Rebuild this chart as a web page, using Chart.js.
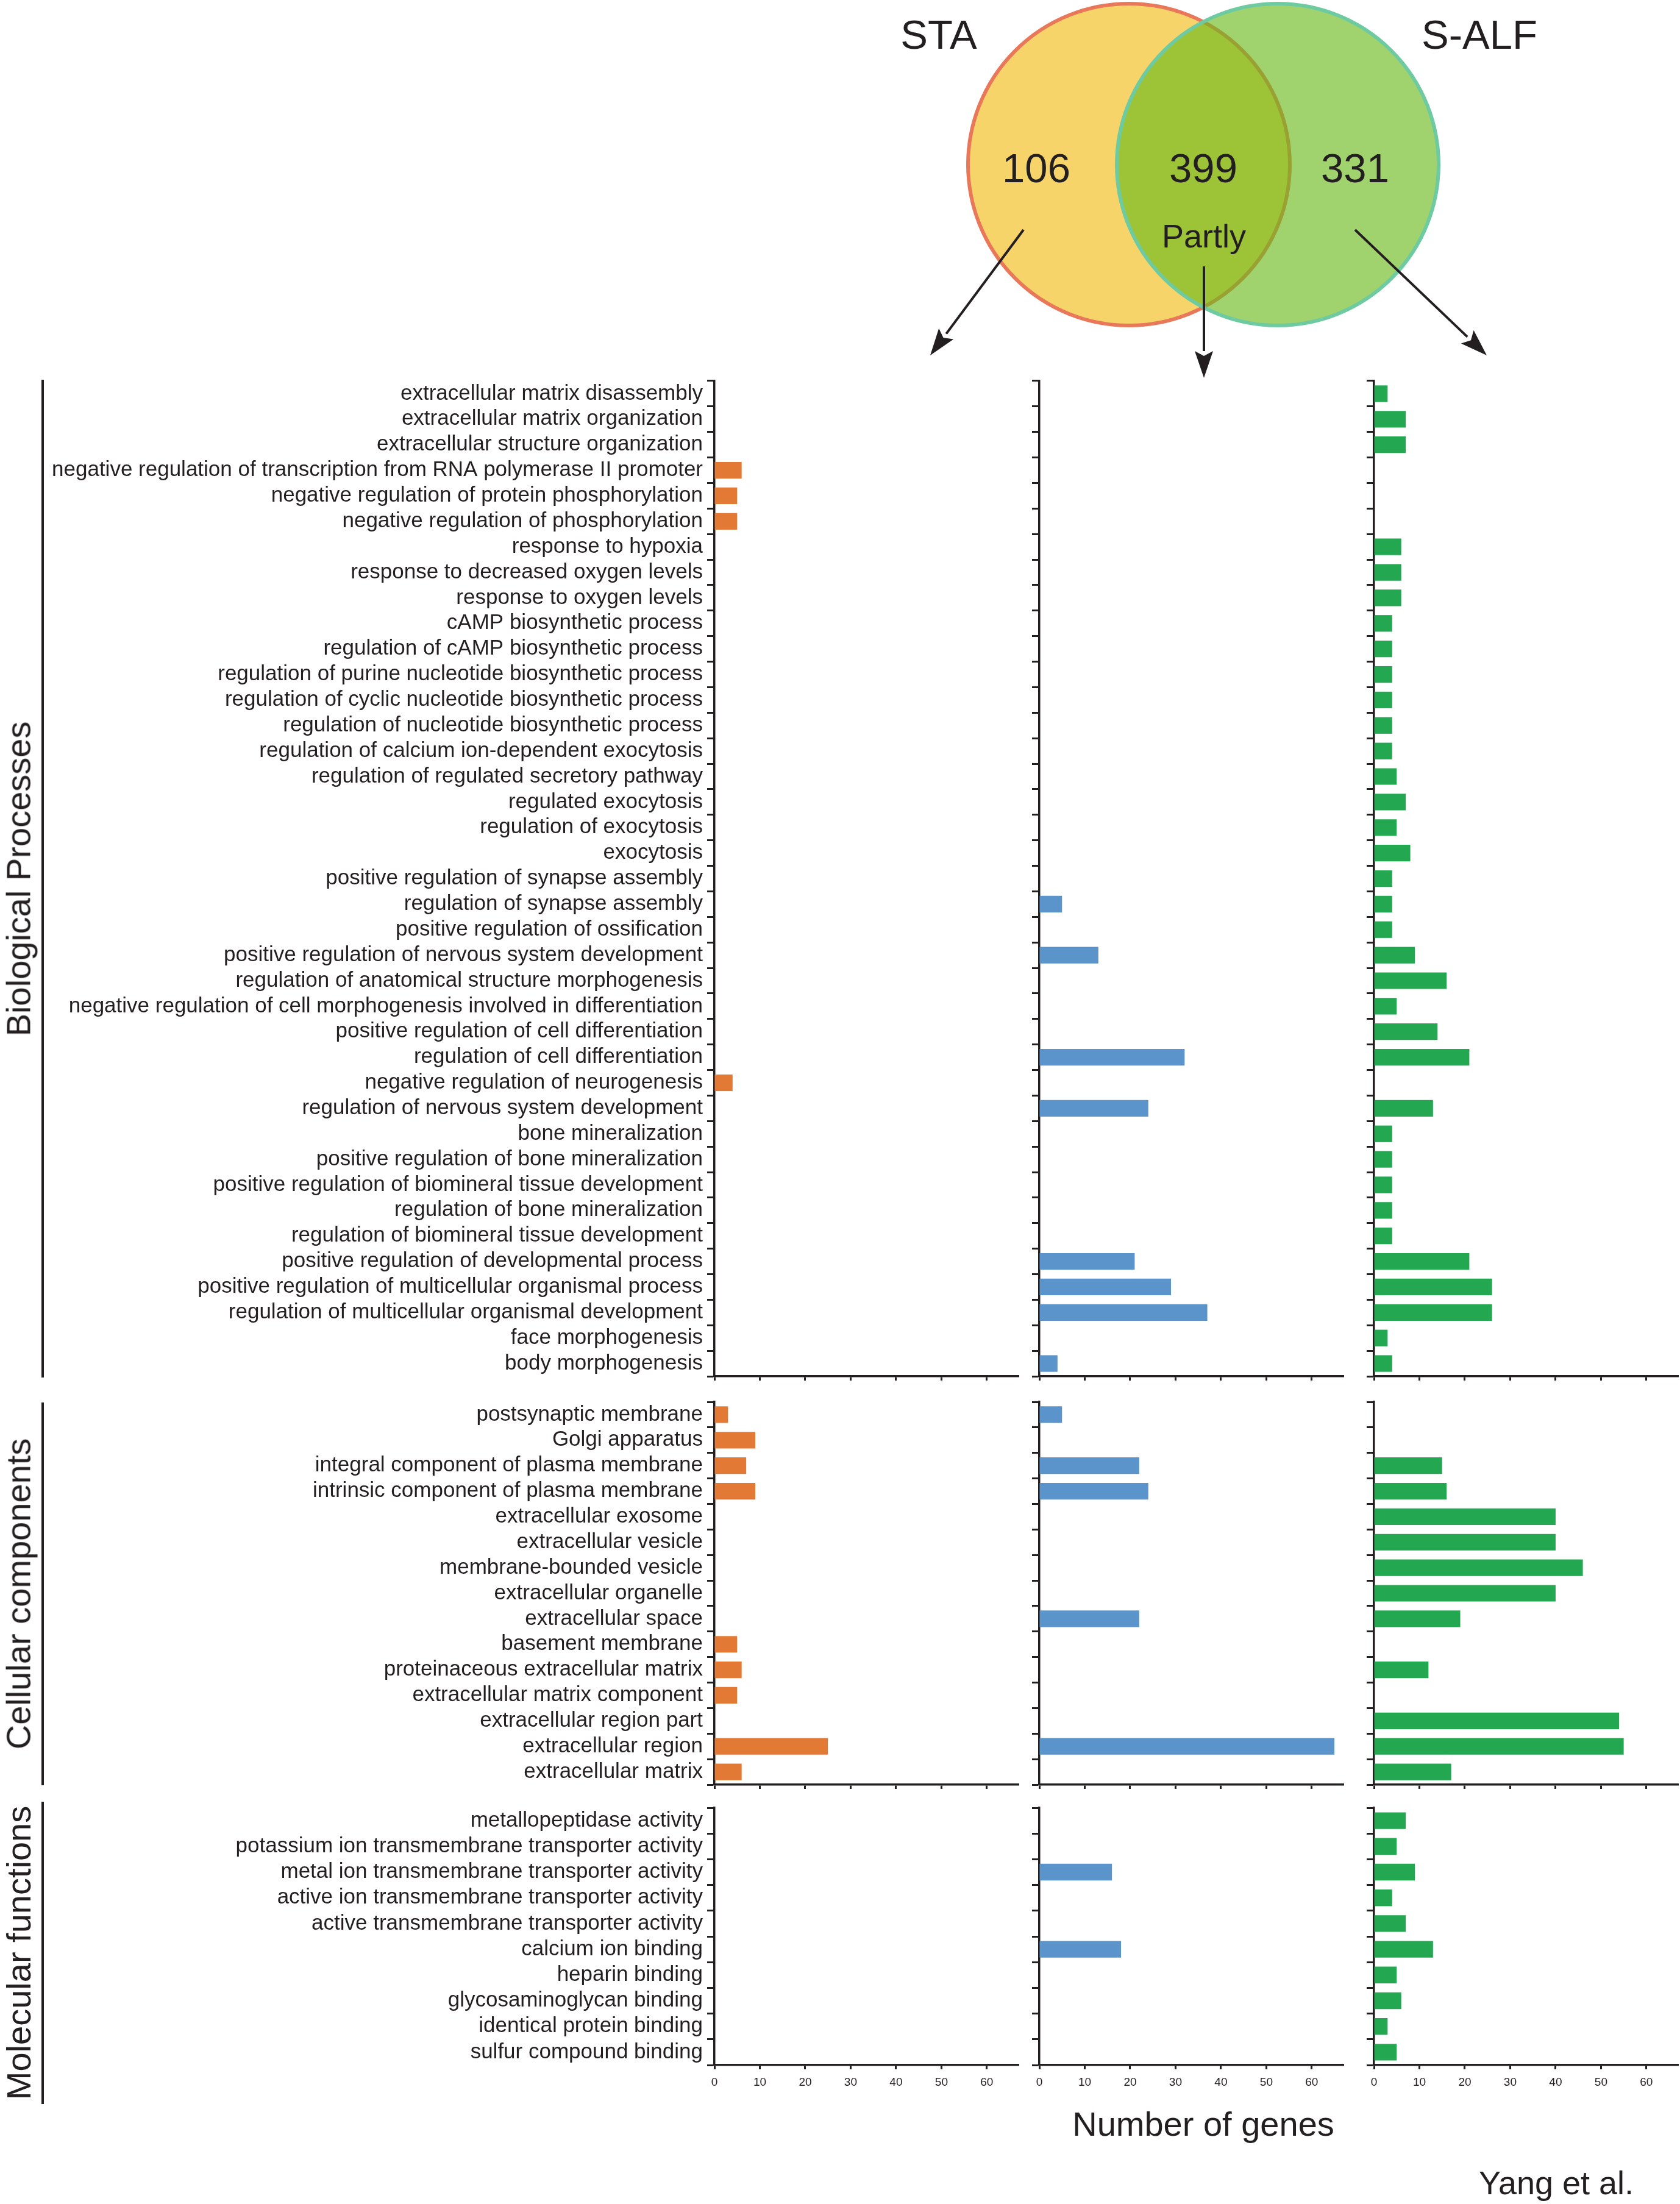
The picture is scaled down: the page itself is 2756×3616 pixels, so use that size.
<!DOCTYPE html>
<html>
<head>
<meta charset="utf-8">
<script src="https://cdn.jsdelivr.net/npm/chart.js@4.4.1/dist/chart.umd.min.js"></script>
<style>
  body { margin: 0; background: #fff; width: 2756px; height: 3616px; position: relative; overflow: hidden; }
  canvas { position: absolute; }
  .txt { position: absolute; font-family: "Liberation Sans", Arial, sans-serif; color: #231F20; white-space: nowrap; transform: translate(-50%, -50%); }
  .side { transform: translate(-50%, -50%) rotate(-90deg); }
  .bracket { position: absolute; left: 68px; width: 4px; background: #231F20; }
</style>
</head>
<body>
<script>
// Venn counts: STA only, both (partly), S-ALF only
const vennSets = ['STA', 'S-ALF'];
const vennCounts = [106, 399, 331];

const panelNames = ['STA', 'Partly', 'S-ALF'];
const panelColors = ['#E27A36', '#5A94CA', '#23A751'];

// Biological Processes
const bpLabels = [
  'extracellular matrix disassembly',
  'extracellular matrix organization',
  'extracellular structure organization',
  'negative regulation of transcription from RNA polymerase II promoter',
  'negative regulation of protein phosphorylation',
  'negative regulation of phosphorylation',
  'response to hypoxia',
  'response to decreased oxygen levels',
  'response to oxygen levels',
  'cAMP biosynthetic process',
  'regulation of cAMP biosynthetic process',
  'regulation of purine nucleotide biosynthetic process',
  'regulation of cyclic nucleotide biosynthetic process',
  'regulation of nucleotide biosynthetic process',
  'regulation of calcium ion-dependent exocytosis',
  'regulation of regulated secretory pathway',
  'regulated exocytosis',
  'regulation of exocytosis',
  'exocytosis',
  'positive regulation of synapse assembly',
  'regulation of synapse assembly',
  'positive regulation of ossification',
  'positive regulation of nervous system development',
  'regulation of anatomical structure morphogenesis',
  'negative regulation of cell morphogenesis involved in differentiation',
  'positive regulation of cell differentiation',
  'regulation of cell differentiation',
  'negative regulation of neurogenesis',
  'regulation of nervous system development',
  'bone mineralization',
  'positive regulation of bone mineralization',
  'positive regulation of biomineral tissue development',
  'regulation of bone mineralization',
  'regulation of biomineral tissue development',
  'positive regulation of developmental process',
  'positive regulation of multicellular organismal process',
  'regulation of multicellular organismal development',
  'face morphogenesis',
  'body morphogenesis'
];
const staBP = [0, 0, 0, 6, 5, 5, 0, 0, 0, 0, 0, 0, 0, 0, 0, 0, 0, 0, 0, 0,
  0, 0, 0, 0, 0, 0, 0, 4, 0, 0, 0, 0, 0, 0, 0, 0, 0, 0, 0];
const partlyBP = [0, 0, 0, 0, 0, 0, 0, 0, 0, 0, 0, 0, 0, 0, 0, 0, 0, 0, 0, 0,
  5, 0, 13, 0, 0, 0, 32, 0, 24, 0, 0, 0, 0, 0, 21, 29, 37, 0, 4];
const salfBP = [3, 7, 7, 0, 0, 0, 6, 6, 6, 4, 4, 4, 4, 4, 4, 5, 7, 5, 8, 4,
  4, 4, 9, 16, 5, 14, 21, 0, 13, 4, 4, 4, 4, 4, 21, 26, 26, 3, 4];

// Cellular components
const ccLabels = [
  'postsynaptic membrane',
  'Golgi apparatus',
  'integral component of plasma membrane',
  'intrinsic component of plasma membrane',
  'extracellular exosome',
  'extracellular vesicle',
  'membrane-bounded vesicle',
  'extracellular organelle',
  'extracellular space',
  'basement membrane',
  'proteinaceous extracellular matrix',
  'extracellular matrix component',
  'extracellular region part',
  'extracellular region',
  'extracellular matrix'
];
const staCC = [3, 9, 7, 9, 0, 0, 0, 0, 0, 5, 6, 5, 0, 25, 6];
const partlyCC = [5, 0, 22, 24, 0, 0, 0, 0, 22, 0, 0, 0, 0, 65, 0];
const salfCC = [0, 0, 15, 16, 40, 40, 46, 40, 19, 0, 12, 0, 54, 55, 17];

// Molecular functions
const mfLabels = [
  'metallopeptidase activity',
  'potassium ion transmembrane transporter activity',
  'metal ion transmembrane transporter activity',
  'active ion transmembrane transporter activity',
  'active transmembrane transporter activity',
  'calcium ion binding',
  'heparin binding',
  'glycosaminoglycan binding',
  'identical protein binding',
  'sulfur compound binding'
];
const staMF = [0, 0, 0, 0, 0, 0, 0, 0, 0, 0];
const partlyMF = [0, 0, 16, 0, 0, 18, 0, 0, 0, 0];
const salfMF = [7, 5, 9, 4, 7, 13, 5, 6, 3, 5];

const xTicksMax = 67;
const INK = '#231F20';
const FONT = '"Liberation Sans", Arial, sans-serif';

// layout of the three blocks (page pixels)
const sections = [
  { title: 'Biological Processes', labels: bpLabels, values: [staBP, partlyBP, salfBP], top: 625, bottom: 2258, showX: false, line: [623, 2260] },
  { title: 'Cellular components', labels: ccLabels, values: [staCC, partlyCC, salfCC], top: 2300, bottom: 2928, showX: false, line: [2301, 2929] },
  { title: 'Molecular functions', labels: mfLabels, values: [staMF, partlyMF, salfMF], top: 2966, bottom: 3388, showX: true, line: [2956, 3452] }
];
const axisLeft = [1172, 1705, 2254];
const plotW = 499;
const padTop = 30;

function addText(str, x, y, size, cls) {
  const d = document.createElement('div');
  d.className = 'txt' + (cls ? ' ' + cls : '');
  d.textContent = str;
  d.style.left = x + 'px';
  d.style.top = y + 'px';
  d.style.fontSize = size + 'px';
  document.body.appendChild(d);
}

function makeCanvas(left, top, w, h) {
  const c = document.createElement('canvas');
  c.width = w; c.height = h;
  c.style.left = left + 'px'; c.style.top = top + 'px';
  c.style.width = w + 'px'; c.style.height = h + 'px';
  document.body.appendChild(c);
  return c;
}

sections.forEach(sec => {
  const xh = sec.showX ? 64 : 30;
  const areaH = sec.bottom - sec.top;

  sec.values.forEach((vals, p) => {
    const yw = p === 0 ? axisLeft[0] : 40;
    const left = axisLeft[p] - yw;
    const w = yw + plotW + 6;
    const h = padTop + areaH + xh;
    const canvas = makeCanvas(left, sec.top - padTop, w, h);

    new Chart(canvas.getContext('2d'), {
      type: 'bar',
      data: {
        labels: sec.labels,
        datasets: [{
          label: panelNames[p],
          data: vals,
          backgroundColor: panelColors[p],
          borderWidth: 0,
          barPercentage: 0.65,
          categoryPercentage: 1
        }]
      },
      options: {
        indexAxis: 'y',
        responsive: false,
        animation: false,
        devicePixelRatio: 1,
        events: [],
        layout: { autoPadding: false, padding: { top: padTop, right: 6, left: 0, bottom: 0 } },
        plugins: { legend: { display: false }, tooltip: { enabled: false } },
        scales: {
          x: {
            type: 'linear',
            min: 0,
            max: xTicksMax,
            afterFit: s => { s.height = xh; },
            border: { color: INK, width: 3.5 },
            grid: { drawOnChartArea: false, drawTicks: true, tickLength: 7, tickWidth: 3, tickColor: INK },
            ticks: {
              display: sec.showX,
              stepSize: 10,
              includeBounds: false,
              color: INK,
              padding: 10,
              maxRotation: 0,
              font: { family: FONT, size: 19 }
            }
          },
          y: {
            type: 'category',
            offset: true,
            afterFit: s => { s.width = yw; },
            border: { color: INK, width: 3.5 },
            grid: { offset: true, drawOnChartArea: false, drawTicks: true, tickLength: 12, tickWidth: 3, tickColor: INK },
            ticks: {
              display: p === 0,
              autoSkip: false,
              color: INK,
              padding: 7,
              font: { family: FONT, size: 35 }
            }
          }
        }
      }
    });
  });

  // rotated block title and the bracket line next to it
  addText(sec.title, 30, (sec.line[0] + sec.line[1]) / 2, 56, 'side');
  const b = document.createElement('div');
  b.className = 'bracket';
  b.style.top = sec.line[0] + 'px';
  b.style.height = (sec.line[1] - sec.line[0]) + 'px';
  document.body.appendChild(b);
});

addText('Number of genes', 1974, 3484, 56);
addText('Yang et al.', 2553, 3581, 54);

// Venn diagram on top, drawn as two big scatter points
const vennLeft = 1400;
const vennCanvas = makeCanvas(vennLeft, 0, 1200, 640);

const vennText = {
  id: 'vennText',
  afterDatasetsDraw(chart) {
    const ctx = chart.ctx;
    const xs = chart.scales.x;
    const c0 = xs.getPixelForValue(0);
    const c1 = xs.getPixelForValue(1);
    const cy = chart.scales.y.getPixelForValue(0);
    ctx.save();
    ctx.fillStyle = INK;
    ctx.strokeStyle = INK;
    ctx.textAlign = 'center';
    ctx.textBaseline = 'middle';
    ctx.font = '67px ' + FONT;
    ctx.fillText(vennSets[0], c0 - 312, 62);
    ctx.fillText(vennSets[1], c1 + 331, 62);
    ctx.fillText(String(vennCounts[0]), c0 - 152, cy + 11);
    ctx.fillText(String(vennCounts[1]), (c0 + c1) / 2, cy + 11);
    ctx.fillText(String(vennCounts[2]), c1 + 127, cy + 11);
    ctx.font = '54px ' + FONT;
    ctx.fillText('Partly', (c0 + c1) / 2 + 1, cy + 121);

    const arrows = [
      [c0 - 173, cy + 107, c0 - 326, cy + 313],
      [(c0 + c1) / 2 + 1, cy + 167, (c0 + c1) / 2 + 1, cy + 350],
      [c1 + 127, cy + 107, c1 + 343, cy + 313]
    ];
    arrows.forEach(([x1, y1, x2, y2]) => {
      const ang = Math.atan2(y2 - y1, x2 - x1);
      const hl = 44, hw = 15;
      const bx = x2 - hl * Math.cos(ang), by = y2 - hl * Math.sin(ang);
      ctx.lineWidth = 4;
      ctx.beginPath();
      ctx.moveTo(x1, y1);
      ctx.lineTo(bx, by);
      ctx.stroke();
      ctx.beginPath();
      ctx.moveTo(x2, y2);
      ctx.lineTo(bx + hw * Math.sin(ang), by - hw * Math.cos(ang));
      ctx.lineTo(bx + 8 * Math.cos(ang), by + 8 * Math.sin(ang));
      ctx.lineTo(bx - hw * Math.sin(ang), by + hw * Math.cos(ang));
      ctx.closePath();
      ctx.fill();
    });
    ctx.restore();
  }
};

new Chart(vennCanvas.getContext('2d'), {
  type: 'scatter',
  data: {
    datasets: [
      // order: the S-ALF circle is painted over the STA one
      { data: [{ x: 0, y: 0 }], order: 1, pointRadius: 264, backgroundColor: '#F7D46A', borderColor: '#E9785B', borderWidth: 6 },
      { data: [{ x: 1, y: 0 }], order: 0, pointRadius: 264, backgroundColor: 'rgba(106,185,26,0.64)', borderColor: '#6DCAA1', borderWidth: 6 }
    ]
  },
  options: {
    responsive: false,
    animation: false,
    devicePixelRatio: 1,
    events: [],
    clip: false,
    layout: { autoPadding: false, padding: 0 },
    plugins: { legend: { display: false }, tooltip: { enabled: false } },
    scales: {
      x: { display: false, min: -452 / 244, max: (1200 - 452) / 244 },
      y: { display: false, min: -370 / 270, max: 1 }
    }
  },
  plugins: [vennText]
});
</script>
</body>
</html>
